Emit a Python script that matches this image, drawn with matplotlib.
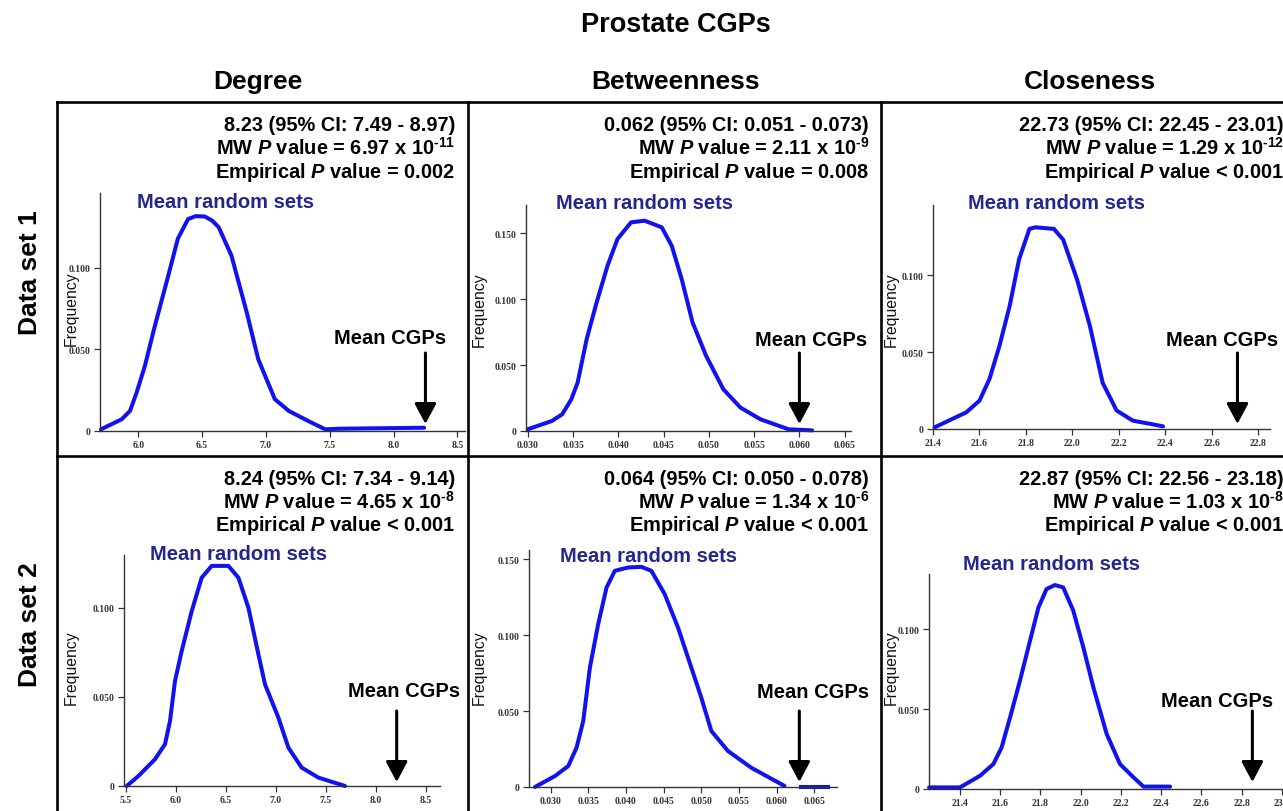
"""Prostate CGPs: random-set distributions of degree / betweenness / closeness.

Two data sets (rows) x three centrality measures (columns), each panel with
the frequency curve of the random sets and an arrow at the CGP mean.
"""
import matplotlib

matplotlib.use("Agg")

import matplotlib.pyplot as plt
from matplotlib.patches import FancyArrowPatch
from matplotlib.transforms import blended_transform_factory

W, H = 1283, 812  # output size in pixels (dpi 100)

CURVE = "#1212ee"
NAVY = "#25258f"
AXIS = "#333333"

plt.rcParams["font.family"] = ["Liberation Sans", "DejaVu Sans"]
plt.rcParams["mathtext.fontset"] = "custom"
plt.rcParams["mathtext.rm"] = "Liberation Sans:bold"
plt.rcParams["mathtext.bf"] = "Liberation Sans:bold"
plt.rcParams["mathtext.it"] = "Liberation Sans:italic:bold"

# ---- data ---------------------------------------------------------------
columns = ["Degree", "Betweenness", "Closeness"]
rows = ["Data set 1", "Data set 2"]

degree_ds1_x = [5.707, 5.87, 5.935, 5.987, 6.052, 6.13, 6.235, 6.31, 6.39,
                6.45, 6.52, 6.58, 6.63, 6.73, 6.85, 6.94, 7.07, 7.18, 7.335,
                7.466, 7.57, 8.24]
degree_ds1_y = [0.001, 0.0072, 0.0123, 0.0236, 0.040, 0.0645, 0.0953, 0.118,
                0.130, 0.1318, 0.1316, 0.129, 0.125, 0.1076, 0.0727, 0.044,
                0.0195, 0.0123, 0.006, 0.001, 0.0014, 0.002]

betw_ds1_x = [0.0300, 0.03265, 0.0338, 0.0348, 0.0355, 0.0365, 0.0376,
              0.0388, 0.0399, 0.0414, 0.0429, 0.0448, 0.0459, 0.0470,
              0.0482, 0.0497, 0.0516, 0.0535, 0.0557, 0.0588, 0.0614]
betw_ds1_y = [0.0013, 0.0076, 0.0127, 0.024, 0.0367, 0.0697, 0.0976, 0.1254,
              0.1457, 0.1584, 0.1597, 0.1546, 0.1406, 0.1153, 0.0824, 0.057,
              0.0317, 0.0177, 0.0089, 0.0013, 0.0005]

close_ds1_x = [21.407, 21.543, 21.60, 21.643, 21.686, 21.73, 21.77, 21.815,
               21.84, 21.92, 21.96, 22.02, 22.075, 22.13, 22.19, 22.26,
               22.34, 22.39]
close_ds1_y = [0.0011, 0.0108, 0.0184, 0.0325, 0.054, 0.080, 0.110, 0.130,
               0.131, 0.130, 0.123, 0.097, 0.067, 0.030, 0.012, 0.0054,
               0.0032, 0.0017]

degree_ds2_x = [5.51, 5.627, 5.793, 5.893, 5.943, 5.993, 6.06, 6.16, 6.26,
                6.36, 6.527, 6.627, 6.727, 6.827, 6.893, 7.027, 7.127, 7.26,
                7.427, 7.693]
degree_ds2_y = [0.0, 0.0056, 0.015, 0.0234, 0.0364, 0.0589, 0.0757, 0.098,
                0.1168, 0.1234, 0.1234, 0.1168, 0.100, 0.0738, 0.057, 0.0383,
                0.0215, 0.0103, 0.0047, 0.0]

betw_ds2_x = [0.02792, 0.03057, 0.03234, 0.03344, 0.03433, 0.03521, 0.03631,
              0.03742, 0.03852, 0.04028, 0.04205, 0.04337, 0.04514, 0.04690,
              0.04867, 0.04999, 0.05132, 0.05353, 0.05662, 0.06103]
betw_ds2_y = [0.0, 0.0072, 0.0138, 0.0259, 0.0435, 0.0786, 0.1072, 0.1313,
              0.1423, 0.1445, 0.1449, 0.1423, 0.1269, 0.1050, 0.0786, 0.0589,
              0.0369, 0.0237, 0.0127, 0.0007]
betw_ds2_tail_x = [0.0632, 0.0668]
betw_ds2_tail_y = [0.0, 0.0]

close_ds2_x = [21.246, 21.40, 21.50, 21.566, 21.607, 21.649, 21.698, 21.748,
               21.79, 21.83, 21.872, 21.913, 21.963, 22.013, 22.063, 22.129,
               22.195, 22.262, 22.312, 22.444]
close_ds2_y = [0.001, 0.001, 0.0083, 0.0156, 0.026, 0.0448, 0.0677, 0.0927,
               0.1135, 0.125, 0.1275, 0.126, 0.1115, 0.0885, 0.0635, 0.0344,
               0.0156, 0.0073, 0.0015, 0.0015]

# arrow position (mean of the CGPs, as drawn)
arrow_x = [[8.25, 0.0600, 22.71], [8.21, 0.0630, 22.853]]

stats = [
    [["8.23 (95% CI: 7.49 - 8.97)", "6.97", "-11", "= 0.002"],
     ["0.062 (95% CI: 0.051 - 0.073)", "2.11", "-9", "= 0.008"],
     ["22.73 (95% CI: 22.45 - 23.01)", "1.29", "-12", "< 0.001"]],
    [["8.24 (95% CI: 7.34 - 9.14)", "4.65", "-8", "< 0.001"],
     ["0.064 (95% CI: 0.050 - 0.078)", "1.34", "-6", "< 0.001"],
     ["22.87 (95% CI: 22.56 - 23.18)", "1.03", "-8", "< 0.001"]],
]

degree_ticks_1 = [6.0, 6.5, 7.0, 7.5, 8.0, 8.5]
degree_ticks_2 = [5.5, 6.0, 6.5, 7.0, 7.5, 8.0, 8.5]
betw_ticks = [0.030, 0.035, 0.040, 0.045, 0.050, 0.055, 0.060, 0.065]
close_ticks_1 = [21.4, 21.6, 21.8, 22.0, 22.2, 22.4, 22.6, 22.8]
close_ticks_2 = [21.4, 21.6, 21.8, 22.0, 22.2, 22.4, 22.6, 22.8, 23.0]
freq_ticks_3 = [0.0, 0.050, 0.100]
freq_ticks_4 = [0.0, 0.050, 0.100, 0.150]

# ---- layout (pixels) ----------------------------------------------------
# axes box: left, top, right, bottom; limits; tick sets; text anchors
panels = [
    dict(r=0, c=0, box=(100, 194, 465, 432), xlim=(5.70, 8.56), ylim=(0, 0.146),
         x=degree_ds1_x, y=degree_ds1_y, xt=degree_ticks_1, xfmt="{:.1f}",
         yt=freq_ticks_3, rand=(137, 208), cgp=(334, 344), arrow=(354, 425),
         freq=(71, 309)),
    dict(r=0, c=1, box=(526, 206, 851, 432), xlim=(0.0298, 0.0657),
         ylim=(0, 0.1716), x=betw_ds1_x, y=betw_ds1_y, xt=betw_ticks,
         xfmt="{:.3f}", yt=freq_ticks_4, rand=(556, 209), cgp=(755, 346),
         arrow=(354, 425), freq=(479, 310)),
    dict(r=0, c=2, box=(933, 206, 1270, 430), xlim=(21.40, 22.85),
         ylim=(0, 0.1455), x=close_ds1_x, y=close_ds1_y, xt=close_ticks_1,
         xfmt="{:.1f}", yt=freq_ticks_3, rand=(968, 209), cgp=(1166, 346),
         arrow=(354, 425), freq=(891, 310)),
    dict(r=1, c=0, box=(124, 556, 440, 787), xlim=(5.483, 8.643),
         ylim=(0, 0.1295), x=degree_ds2_x, y=degree_ds2_y, xt=degree_ticks_2,
         xfmt="{:.1f}", yt=freq_ticks_3, rand=(150, 560), cgp=(348, 697),
         arrow=(712, 783), freq=(71, 668)),
    dict(r=1, c=1, box=(529, 551, 837, 788), xlim=(0.02713, 0.0680),
         ylim=(0, 0.156), x=betw_ds2_x, y=betw_ds2_y, xt=betw_ticks,
         xfmt="{:.3f}", yt=freq_ticks_4, rand=(560, 562), cgp=(757, 698),
         arrow=(712, 783), freq=(479, 668)),
    dict(r=1, c=2, box=(929, 575, 1290, 790), xlim=(21.246, 23.04),
         ylim=(0, 0.1344), x=close_ds2_x, y=close_ds2_y, xt=close_ticks_2,
         xfmt="{:.1f}", yt=freq_ticks_3, rand=(963, 570), cgp=(1161, 707),
         arrow=(712, 783), freq=(891, 668)),
]

stats_right = [455, 869, 1284]
stats_base = [[131, 154.5, 178], [485, 508.5, 531]]


def fx(x):
    return x / W


def fy(y):
    return 1 - y / H


fig = plt.figure(figsize=(W / 100, H / 100), dpi=100)

# frame grid
frame = dict(color="black", linewidth=1.9, transform=fig.transFigure,
             solid_capstyle="projecting")
for y in (103, 457):
    fig.add_artist(plt.Line2D([fx(57), fx(W + 5)], [fy(y), fy(y)], **frame))
for x in (57, 468, 881):
    fig.add_artist(plt.Line2D([fx(x), fx(x)], [fy(103), fy(H + 5)], **frame))

fig.text(fx(676), fy(25), "Prostate CGPs", ha="center", va="center",
         fontsize=19.5, fontweight="bold")
for name, x in zip(columns, (258, 676, 1090)):
    fig.text(fx(x), fy(82), name, ha="center", va="center", fontsize=19,
             fontweight="bold")
for name, y in zip(rows, (273, 625)):
    fig.text(fx(30), fy(y), name, ha="center", va="center", rotation=90,
             fontsize=19, fontweight="bold")

tick_font = dict(family="Liberation Serif", weight="bold", size=7)

for p in panels:
    l, t, r, b = p["box"]
    ax = fig.add_axes([fx(l), fy(b), (r - l) / W, (b - t) / H])
    ax.plot(p["x"], p["y"], color=CURVE, linewidth=2.9,
            solid_joinstyle="round", solid_capstyle="round", clip_on=False)
    if p["r"] == 1 and p["c"] == 1:
        ax.plot(betw_ds2_tail_x, betw_ds2_tail_y, color=CURVE, linewidth=2.9,
                clip_on=False)
    ax.set_xlim(*p["xlim"])
    ax.set_ylim(*p["ylim"])
    for side in ("top", "right"):
        ax.spines[side].set_visible(False)
    for side in ("left", "bottom"):
        ax.spines[side].set_color(AXIS)
        ax.spines[side].set_linewidth(1.0)
    ax.set_facecolor("none")
    ax.set_xticks(p["xt"])
    ax.set_xticklabels([p["xfmt"].format(v) for v in p["xt"]], **tick_font)
    ax.set_yticks(p["yt"])
    ax.set_yticklabels(["0" if v == 0 else f"{v:.3f}" for v in p["yt"]],
                       **tick_font)
    ax.tick_params(length=4.5, width=0.9, color=AXIS, labelcolor=AXIS)
    ax.tick_params(axis="x", pad=2)
    ax.tick_params(axis="y", pad=2)

    # arrow at the CGP mean: x in data units, y in axes fraction
    ytop, ytip = p["arrow"]
    xv = arrow_x[p["r"]][p["c"]]
    trans = blended_transform_factory(ax.transData, ax.transAxes)
    arrow = FancyArrowPatch(
        (xv, (b - ytop) / (b - t)), (xv, (b - ytip) / (b - t)),
        transform=trans, arrowstyle="-|>,head_length=0.62,head_width=0.33",
        mutation_scale=20, lw=2.2, color="black", shrinkA=0, shrinkB=0,
        clip_on=False, zorder=5,
    )
    ax.add_patch(arrow)

    rx, ry = p["rand"]
    fig.text(fx(rx), fy(ry), "Mean random sets", ha="left", va="baseline",
             fontsize=14.5, fontweight="bold", color=NAVY)
    cx, cy = p["cgp"]
    fig.text(fx(cx), fy(cy), "Mean CGPs", ha="left", va="baseline",
             fontsize=14.5, fontweight="bold", color="black")
    qx, qy = p["freq"]
    fig.text(fx(qx), fy(qy), "Frequency", ha="center", va="center",
             rotation=90, fontsize=11.3, color="#111111")

    ci, mw, exp, emp = stats[p["r"]][p["c"]]
    xr = stats_right[p["c"]]
    yb = stats_base[p["r"]]
    lines = [ci, f"MW $P$ value = {mw} x 10$^{{\\text{{{exp}}}}}$",
             f"Empirical $P$ value {emp}"]
    for line, y in zip(lines, yb):
        fig.text(fx(xr), fy(y), line, ha="right", va="baseline",
                 fontsize=14.4, fontweight="bold", color="black")

fig.savefig("out.png", dpi=100)
